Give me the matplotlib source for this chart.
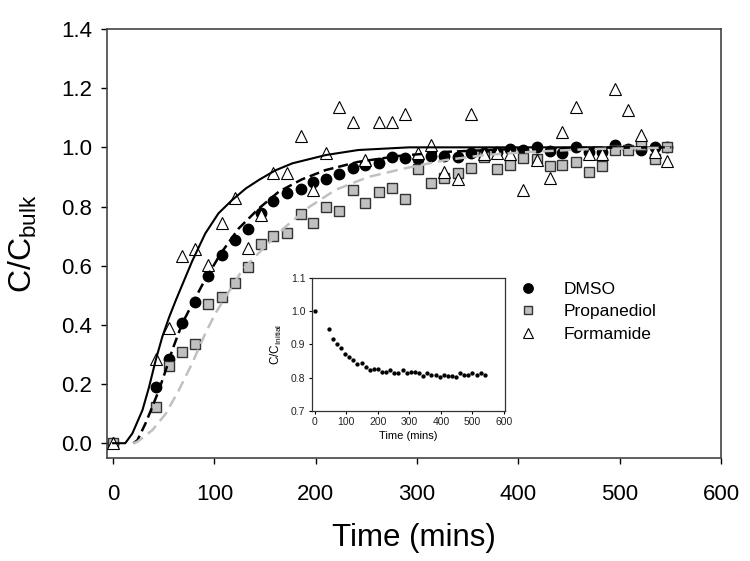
import matplotlib

matplotlib.use("Agg")
import matplotlib.pyplot as plt

plt.rcParams["font.family"] = ["Liberation Sans", "DejaVu Sans"]
plt.rcParams["mathtext.fontset"] = "custom"
plt.rcParams["mathtext.rm"] = "Liberation Sans"
plt.rcParams["mathtext.it"] = "Liberation Sans:italic"

# sampling times (mins), shared by the three solvents
times = [0, 42, 55, 68, 81, 94, 107, 120, 133, 146, 158, 172, 185, 197, 210,
         223, 237, 249, 262, 275, 288, 301, 314, 327, 340, 353, 366, 379, 392,
         405, 418, 431, 443, 457, 470, 483, 495, 508, 521, 535, 547]

dmso = [0, 0.19, 0.286, 0.405, 0.478, 0.565, 0.636, 0.686, 0.723, 0.777, 0.819,
        0.846, 0.858, 0.884, 0.892, 0.91, 0.929, 0.94, 0.948, 0.966, 0.963,
        0.959, 0.971, 0.972, 0.966, 0.982, 0.98, 0.985, 0.993, 0.99, 1.002,
        0.989, 0.98, 1.0, 0.985, 0.985, 1.008, 0.993, 0.99, 1.0, 1.0]

propanediol = [0, 0.123, 0.26, 0.307, 0.337, 0.472, 0.495, 0.542, 0.596, 0.672,
               0.70, 0.709, 0.776, 0.744, 0.798, 0.786, 0.856, 0.813, 0.848,
               0.864, 0.825, 0.926, 0.878, 0.895, 0.914, 0.929, 0.968, 0.926,
               0.94, 0.965, 0.962, 0.937, 0.94, 0.951, 0.918, 0.937, 0.991,
               0.991, 1.008, 0.96, 1.0]

formamide = [0, 0.284, 0.388, 0.632, 0.658, 0.604, 0.745, 0.828, 0.66, 0.771,
             0.914, 0.914, 1.04, 0.856, 0.982, 1.137, 1.087, 0.957, 1.087, 1.087,
             1.113, 0.98, 1.008, 0.917, 0.893, 1.113, 0.977, 0.98, 0.977, 0.856,
             0.957, 0.895, 1.053, 1.137, 0.977, 0.977, 1.196, 1.126, 1.042,
             0.985, 0.954]

# fitted curves
fit_form_t = [0, 12, 19, 29, 35.5, 42, 48.6, 55.2, 62, 78, 91, 104, 117.5, 131,
              144, 160, 177, 210, 242, 292, 400, 550]
fit_form_y = [0, 0, 0.033, 0.112, 0.19, 0.28, 0.36, 0.425, 0.484, 0.615, 0.709,
              0.777, 0.822, 0.861, 0.89, 0.922, 0.946, 0.974, 0.991, 1.0, 1.0, 1.0]

fit_dmso_t = [20, 24, 32, 38.7, 45.3, 52, 58.4, 68.3, 78, 88, 106, 124, 144,
              163.5, 186.5, 209.6, 242, 282, 330, 400, 470, 550]
fit_dmso_y = [0, 0.01, 0.067, 0.123, 0.18, 0.247, 0.315, 0.405, 0.47, 0.535,
              0.64, 0.726, 0.794, 0.85, 0.892, 0.923, 0.951, 0.971, 0.985,
              0.995, 0.999, 1.0]

fit_prop_t = [20, 24, 38.7, 52, 65, 78, 91, 101, 127.4, 150, 170, 193, 219.4,
              252, 288, 328, 367, 413, 470, 550]
fit_prop_y = [0, 0.005, 0.044, 0.1, 0.18, 0.27, 0.371, 0.439, 0.585, 0.665,
              0.731, 0.797, 0.856, 0.9, 0.929, 0.957, 0.974, 0.985, 0.994, 0.999]

# inset: C/C_initial over time
inset_times = [0, 44, 58, 71, 84, 95, 109, 122, 135, 149, 162, 175, 187, 201,
               213, 225, 239, 252, 265, 278, 291, 305, 318, 331, 344, 357, 369,
               383, 396, 409, 422, 435, 448, 460, 473, 487, 500, 513, 526, 540]
inset_ratio = [1.001, 0.946, 0.916, 0.902, 0.888, 0.87, 0.863, 0.853, 0.84,
               0.845, 0.833, 0.823, 0.827, 0.827, 0.818, 0.818, 0.822, 0.815,
               0.815, 0.822, 0.813, 0.816, 0.816, 0.815, 0.806, 0.813, 0.808,
               0.808, 0.801, 0.808, 0.805, 0.805, 0.801, 0.813, 0.808, 0.808,
               0.813, 0.808, 0.813, 0.808]

fig = plt.figure(figsize=(7.5, 5.61), dpi=100)
ax = fig.add_axes([0.1427, 0.1836, 0.8186, 0.7647])

ax.plot(times, dmso, "o", color="black", ms=7.5, label="DMSO", zorder=3)
ax.plot(times, propanediol, "s", mfc="#c0c0c0", mec="#333333", mew=1.0,
        ms=6.8, label="Propanediol", zorder=3)
ax.plot(times, formamide, "^", mfc="white", mec="black", mew=0.8,
        ms=8.5, label="Formamide", zorder=3)

ax.plot(fit_form_t, fit_form_y, "-", color="black", lw=1.5, zorder=4)
ax.plot(fit_dmso_t, fit_dmso_y, "--", color="black", lw=1.8, dashes=(4, 2), zorder=4)
ax.plot(fit_prop_t, fit_prop_y, "--", color="#c0c0c0", lw=1.8, dashes=(4.5, 2.5), zorder=4)

ax.set_xlim(-6, 600)
ax.set_ylim(-0.05, 1.4)
ax.set_xticks(range(0, 601, 100))
ax.set_yticks([0, 0.2, 0.4, 0.6, 0.8, 1.0, 1.2, 1.4])
ax.set_yticklabels([f"{v:.1f}" for v in ax.get_yticks()])
ax.tick_params(axis="x", direction="out", length=4.5, width=1, pad=14, labelsize=16)
ax.tick_params(axis="y", direction="out", length=4.5, width=1, pad=6, labelsize=16)
for sp in ax.spines.values():
    sp.set_color("#444444")
    sp.set_linewidth(1.2)

ax.set_xlabel("Time (mins)", fontsize=22.5, labelpad=13)
ax.set_ylabel("C/C$_{\\mathrm{bulk}}$", fontsize=23, labelpad=16)

ax.legend(loc="upper left", bbox_to_anchor=(0.693, 0.498),
          bbox_transform=fig.transFigure, frameon=False, fontsize=12.5,
          handlelength=1.0, handletextpad=1.5, labelspacing=0.42,
          borderpad=0, borderaxespad=0, markerscale=0.9)

# inset
ins = fig.add_axes([0.4156, 0.2674, 0.2577, 0.2376])
ins.plot(inset_times, inset_ratio, "o", color="black", ms=2.1)
ins.set_xlim(-10, 603)
ins.set_ylim(0.7, 1.1)
ins.set_xticks(range(0, 601, 100))
ins.set_yticks([0.7, 0.8, 0.9, 1.0, 1.1])
ins.set_yticklabels([f"{v:.1f}" for v in ins.get_yticks()])
ins.tick_params(direction="out", length=2.5, width=0.8, labelsize=7.5,
                labelcolor="#222222", pad=2)
for sp in ins.spines.values():
    sp.set_color("#333333")
    sp.set_linewidth(0.9)
ins.set_xlabel("Time (mins)", fontsize=8, labelpad=3)
ins.set_ylabel("C/C$_{\\mathrm{Initial}}$", fontsize=8.5, labelpad=5)

fig.savefig("out.png", dpi=100)
